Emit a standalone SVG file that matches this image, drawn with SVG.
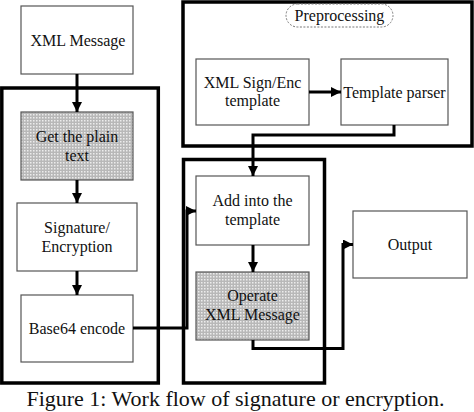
<svg xmlns="http://www.w3.org/2000/svg" width="474" height="412" viewBox="0 0 474 412" font-family="'Liberation Serif', 'Times New Roman', serif">
<style>
.box{fill:#fff;stroke:#555;stroke-width:1.2}
.shade{fill:url(#dots);stroke:#555;stroke-width:1.2}
.cont{fill:none;stroke:#000;stroke-width:3.5}
.t{font-family:'Liberation Serif', serif;font-size:16px;fill:#111;text-anchor:middle}
.cap{font-family:'Liberation Serif', serif;font-size:22px;fill:#111;text-anchor:middle}
.c{fill:none;stroke:#000;stroke-width:3}
</style>
<defs>
<pattern id="dots" width="3" height="3" patternUnits="userSpaceOnUse">
<rect width="3" height="3" fill="#b8b8b8"/>
<rect x="0" y="0" width="1.5" height="1.5" fill="#ececec"/>
</pattern>
<marker id="ah" viewBox="0 0 10 10" refX="10" refY="5" markerWidth="11" markerHeight="10" markerUnits="userSpaceOnUse" orient="auto">
<path d="M0,0 L10,5 L0,10 z" fill="#000"/>
</marker>
</defs>
<g id="containers">
<rect id="left-container" class="cont" x="1.8" y="88" width="156.5" height="295"/>
<rect id="middle-container" class="cont" x="183.5" y="159.5" width="141" height="223.5"/>
<rect id="preprocessing-container" class="cont" x="183" y="2" width="289" height="144"/>
</g>
<g id="preprocessing-label">
<rect x="286" y="4" width="107" height="23" rx="11.5" ry="11.5" fill="#fff" stroke="#777" stroke-width="1" stroke-dasharray="2,1.5"/>
<text class="t" x="339.5" y="21" font-family="'Liberation Serif', serif">Preprocessing</text>
</g>
<g id="xml-message">
<rect class="box" x="21" y="6" width="112" height="68"/>
<text class="t" x="78" y="45.5" font-family="'Liberation Serif', serif">XML Message</text>
</g>
<g id="get-plain-text">
<rect class="shade" x="21" y="112" width="112" height="68"/>
<text class="t" x="77" y="142" font-family="'Liberation Serif', serif">Get the plain</text>
<text class="t" x="77" y="161" font-family="'Liberation Serif', serif">text</text>
</g>
<g id="signature-encryption">
<rect class="box" x="17" y="203" width="120" height="68"/>
<text class="t" x="77" y="233" font-family="'Liberation Serif', serif">Signature/</text>
<text class="t" x="77" y="251.5" font-family="'Liberation Serif', serif">Encryption</text>
</g>
<g id="base64-encode">
<rect class="box" x="21" y="295" width="112" height="67"/>
<text class="t" x="77" y="333.5" font-family="'Liberation Serif', serif">Base64 encode</text>
</g>
<g id="xml-sign-enc-template">
<rect class="box" x="196" y="59" width="113" height="66"/>
<text class="t" x="252.5" y="87.5" font-family="'Liberation Serif', serif">XML Sign/Enc</text>
<text class="t" x="252.5" y="106" font-family="'Liberation Serif', serif">template</text>
</g>
<g id="template-parser">
<rect class="box" x="341" y="59" width="107" height="66"/>
<text class="t" x="394.5" y="97.5" font-family="'Liberation Serif', serif">Template parser</text>
</g>
<g id="add-into-template">
<rect class="box" x="196" y="176" width="113" height="69"/>
<text class="t" x="252.5" y="206" font-family="'Liberation Serif', serif">Add into the</text>
<text class="t" x="252.5" y="225" font-family="'Liberation Serif', serif">template</text>
</g>
<g id="operate-xml-message">
<rect class="shade" x="196" y="272" width="113" height="68"/>
<text class="t" x="252.5" y="301" font-family="'Liberation Serif', serif">Operate</text>
<text class="t" x="252.5" y="320" font-family="'Liberation Serif', serif">XML Message</text>
</g>
<g id="output">
<rect class="box" x="353" y="211" width="114" height="67"/>
<text class="t" x="410" y="249.5" font-family="'Liberation Serif', serif">Output</text>
</g>
<g id="connectors">
<path class="c" d="M77,74 V112" marker-end="url(#ah)"/>
<path class="c" d="M77,180 V203" marker-end="url(#ah)"/>
<path class="c" d="M77,271 V295" marker-end="url(#ah)"/>
<path class="c" d="M309,92 H341" marker-end="url(#ah)"/>
<path class="c" d="M394,125 V135 H253 V176" marker-end="url(#ah)"/>
<path class="c" d="M133,328 H187 V211 H196" marker-end="url(#ah)"/>
<path class="c" d="M253,245 V272" marker-end="url(#ah)"/>
<path class="c" d="M253,340 V348.5 H343 V244.5 H353" marker-end="url(#ah)"/>
</g>
<text class="cap" x="235.5" y="406" font-family="'Liberation Serif', serif">Figure 1: Work flow of signature or encryption.</text>
</svg>
